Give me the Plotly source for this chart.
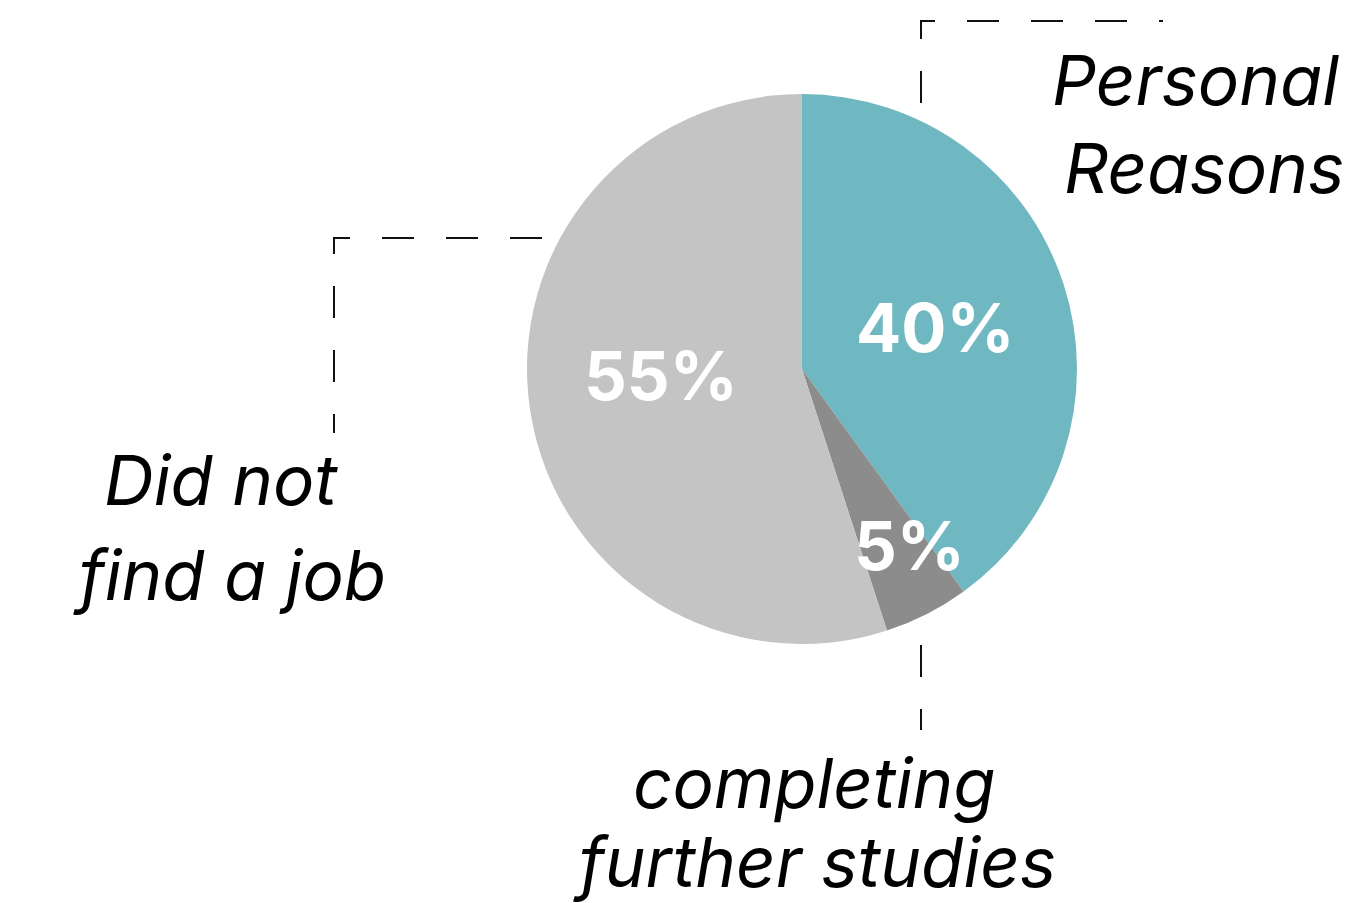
import math
import plotly.graph_objects as go

# slice data, clockwise from 12 o'clock
labels = ['Personal Reasons', 'completing further studies', 'Did not find a job']
values = [40, 5, 55]
colors = ['#6fb7c1', '#8c8c8c', '#c4c4c4']
pct_labels = ['40%', '5%', '55%']
# outside label lines as drawn
label_lines = [
    ['Personal', 'Reasons'],
    ['completing', 'further studies'],
    ['Did not', 'find a job'],
]

# page body has an 8px margin, so the figure sits at (8, 8)
OFF = 8
W, H = 1355 - OFF, 903 - OFF
cx, cy, R = 802, 369, 275  # pie centre / radius in page pixels


def px(x):
    return (x - OFF) / W


def py(y):
    return 1 - (y - OFF) / H


fig = go.Figure(go.Pie(
    labels=labels,
    values=values,
    marker=dict(colors=colors, line=dict(width=0)),
    sort=False,
    direction='clockwise',
    rotation=0,
    textinfo='none',
    hoverinfo='label+percent',
    showlegend=False,
    domain=dict(x=[px(cx - R), px(cx + R)], y=[py(cy + R), py(cy - R)]),
))

# percentage labels near the middle angle of each slice
rfrac = [0.51, 0.752, 0.513]
dangle = [0.6, -4.2, 6.2]  # degrees
total = sum(values)
start = 0
annotations = []
for v, t, rf, da in zip(values, pct_labels, rfrac, dangle):
    mid = (start + v / 2) / total * 2 * math.pi + math.radians(da)
    start += v
    x = cx + rf * R * math.sin(mid)
    y = cy - rf * R * math.cos(mid)
    annotations.append(dict(
        x=px(x), y=py(y), xref='paper', yref='paper', text=t, showarrow=False,
        xanchor='center', yanchor='middle',
        font=dict(family='Inter', size=67, color='white', weight=700),
    ))

# outside labels, one annotation per line (centre x, middle y in page pixels)
line_pos = [
    [(1195, 80), (1204, 168)],
    [(814, 783), (814, 862)],
    [(221, 480), (229, 575)],
]
lab_font = dict(family='Inter', size=69, color='black', style='italic')
for lines, pos in zip(label_lines, line_pos):
    for t, (x, y) in zip(lines, pos):
        annotations.append(dict(x=px(x), y=py(y), xref='paper', yref='paper',
                                text=t, showarrow=False, xanchor='center',
                                yanchor='middle', font=lab_font))

# dashed leader lines
line_style = dict(color='#111111', width=2, dash='32px,32px')
paths = [
    [(921, 103), (921, 21), (1163, 21)],
    [(921, 645), (921, 730)],
    [(542, 238), (334, 238), (334, 433)],
]
shapes = []
for p in paths:
    d = 'M ' + ' L '.join('%.5f %.5f' % (px(a), py(b)) for a, b in p)
    shapes.append(dict(type='path', path=d, xref='paper', yref='paper', line=line_style))

fig.update_layout(
    width=W, height=H,
    margin=dict(l=0, r=0, t=0, b=0),
    paper_bgcolor='white',
    plot_bgcolor='white',
    annotations=annotations,
    shapes=shapes,
)

fig.write_html('out.html')
